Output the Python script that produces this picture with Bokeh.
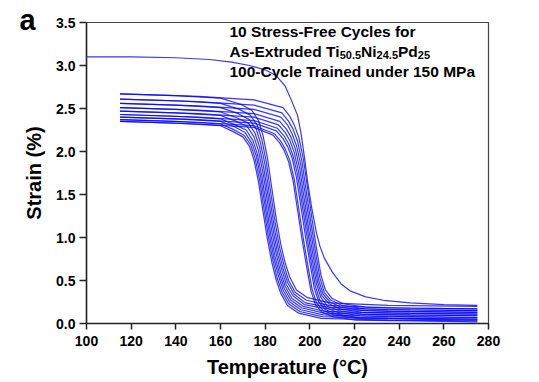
from bokeh.plotting import figure
from bokeh.models import Label, Range1d, FixedTicker
from bokeh.embed import file_html
from bokeh.resources import INLINE

# ---- data: strain (%) vs temperature (degC) ----
x_ticks = [100, 120, 140, 160, 180, 200, 220, 240, 260, 280]
y_ticks = [0.0, 0.5, 1.0, 1.5, 2.0, 2.5, 3.0, 3.5]
y_tick_labels = ["0.0", "0.5", "1.0", "1.5", "2.0", "2.5", "3.0", "3.5"]

# first heating, starting from the trained state
first_heat_T = [100, 120, 140, 155, 165, 173, 180, 185, 189, 192, 194.5, 196, 197.5,
                199, 201, 203, 204.5, 206.5, 210, 214, 218, 225, 233, 245, 260, 275]
first_heat_S = [3.10, 3.10, 3.09, 3.07, 3.04, 3.00, 2.95, 2.88, 2.76, 2.58, 2.42, 2.22, 1.95,
                1.65, 1.32, 1.05, 0.90, 0.76, 0.60, 0.46, 0.38, 0.31, 0.27, 0.24, 0.22, 0.21]

# heating branches (martensite -> austenite)
heat_T = [
    [115, 150, 175, 188, 191, 193, 195, 197, 199, 201, 203, 205, 207, 210, 215, 225, 245, 275],
    [115, 150, 175, 187.5, 190.5, 192.5, 194.5, 196.5, 198.5, 200.5, 202.5, 204.5, 206.5, 209.5, 214.5, 224.5, 245, 275],
    [115, 150, 175, 187, 190, 192, 194, 196, 198, 200, 202, 204, 206, 209, 214, 224, 245, 275],
    [115, 150, 175, 186.5, 189.5, 191.5, 193.5, 195.5, 197.5, 199.5, 201.5, 203.5, 205.5, 208.5, 213.5, 223.5, 245, 275],
    [115, 150, 175, 186, 189, 191, 193, 195, 197, 199, 201, 203, 205, 208, 213, 223, 245, 275],
    [115, 150, 175, 185.5, 188.5, 190.5, 192.5, 194.5, 196.5, 198.5, 200.5, 202.5, 204.5, 207.5, 212.5, 222.5, 245, 275],
    [115, 150, 175, 185, 188, 190, 192, 194, 196, 198, 200, 202, 204, 207, 212, 222, 245, 275],
    [115, 150, 175, 184, 187, 189, 191, 193, 195, 197, 199, 201, 203, 206, 211, 221, 245, 275],
    [115, 150, 175, 183.5, 186.5, 188.5, 190.5, 192.5, 194.5, 196.5, 198.5, 200.5, 202.5, 205.5, 210.5, 220.5, 245, 275],
]
heat_S = [
    [2.67, 2.64, 2.60, 2.51, 2.41, 2.31, 2.17, 1.93, 1.57, 1.21, 0.87, 0.56, 0.39, 0.29, 0.23, 0.19, 0.18, 0.17],
    [2.61, 2.58, 2.54, 2.45, 2.35, 2.26, 2.12, 1.88, 1.52, 1.17, 0.84, 0.53, 0.36, 0.27, 0.21, 0.17, 0.16, 0.15],
    [2.56, 2.53, 2.49, 2.40, 2.31, 2.21, 2.07, 1.84, 1.49, 1.14, 0.81, 0.50, 0.34, 0.25, 0.19, 0.15, 0.14, 0.13],
    [2.51, 2.48, 2.44, 2.35, 2.26, 2.17, 2.03, 1.80, 1.45, 1.10, 0.78, 0.48, 0.32, 0.23, 0.17, 0.13, 0.12, 0.11],
    [2.47, 2.44, 2.40, 2.31, 2.22, 2.13, 1.99, 1.76, 1.42, 1.08, 0.75, 0.46, 0.30, 0.20, 0.15, 0.11, 0.10, 0.09],
    [2.43, 2.40, 2.36, 2.27, 2.18, 2.09, 1.95, 1.73, 1.39, 1.05, 0.73, 0.43, 0.27, 0.18, 0.13, 0.09, 0.08, 0.07],
    [2.40, 2.37, 2.33, 2.24, 2.15, 2.06, 1.93, 1.70, 1.36, 1.02, 0.71, 0.41, 0.25, 0.16, 0.11, 0.07, 0.06, 0.05],
    [2.37, 2.34, 2.30, 2.21, 2.12, 2.03, 1.90, 1.68, 1.34, 1.00, 0.69, 0.40, 0.24, 0.15, 0.10, 0.06, 0.05, 0.04],
    [2.35, 2.32, 2.28, 2.19, 2.10, 2.01, 1.88, 1.66, 1.32, 0.98, 0.67, 0.38, 0.22, 0.13, 0.08, 0.04, 0.03, 0.02],
]

# cooling branches (austenite -> martensite)
cool_T = [
    [275, 235, 209, 199, 194, 191, 189, 187, 185, 183, 181, 179, 177, 174, 169, 160, 140, 115],
    [275, 235, 208.5, 198.5, 193.5, 190.5, 188.5, 186.5, 184.5, 182.5, 180.5, 178.5, 176.5, 173.5, 168.5, 160, 140, 115],
    [275, 235, 208, 198, 193, 190, 188, 186, 184, 182, 180, 178, 176, 173, 168, 160, 140, 115],
    [275, 235, 207.5, 197.5, 192.5, 189.5, 187.5, 185.5, 183.5, 181.5, 179.5, 177.5, 175.5, 172.5, 167.5, 160, 140, 115],
    [275, 235, 207, 197, 192, 189, 187, 185, 183, 181, 179, 177, 175, 172, 167, 160, 140, 115],
    [275, 235, 206.5, 196.5, 191.5, 188.5, 186.5, 184.5, 182.5, 180.5, 178.5, 176.5, 174.5, 171.5, 166.5, 160, 140, 115],
    [275, 235, 206, 196, 191, 188, 186, 184, 182, 180, 178, 176, 174, 171, 166, 160, 140, 115],
    [275, 235, 205.5, 195.5, 190.5, 187.5, 185.5, 183.5, 181.5, 179.5, 177.5, 175.5, 173.5, 170.5, 165.5, 160, 140, 115],
    [275, 235, 205, 195, 190, 187, 185, 183, 181, 179, 177, 175, 173, 170, 165, 160, 140, 115],
]
cool_S = [
    [0.20, 0.21, 0.24, 0.30, 0.39, 0.54, 0.70, 0.92, 1.21, 1.57, 1.93, 2.19, 2.36, 2.48, 2.55, 2.62, 2.65, 2.67],
    [0.17, 0.18, 0.21, 0.27, 0.36, 0.50, 0.67, 0.88, 1.17, 1.52, 1.88, 2.14, 2.30, 2.42, 2.49, 2.56, 2.59, 2.61],
    [0.15, 0.16, 0.19, 0.24, 0.34, 0.48, 0.64, 0.85, 1.13, 1.48, 1.84, 2.09, 2.26, 2.37, 2.44, 2.51, 2.54, 2.56],
    [0.13, 0.14, 0.17, 0.22, 0.32, 0.45, 0.62, 0.82, 1.10, 1.45, 1.79, 2.05, 2.21, 2.33, 2.39, 2.46, 2.49, 2.51],
    [0.11, 0.12, 0.14, 0.20, 0.29, 0.43, 0.59, 0.80, 1.07, 1.42, 1.76, 2.01, 2.17, 2.29, 2.35, 2.42, 2.45, 2.47],
    [0.09, 0.10, 0.12, 0.18, 0.27, 0.41, 0.57, 0.77, 1.04, 1.38, 1.72, 1.97, 2.13, 2.25, 2.31, 2.38, 2.41, 2.43],
    [0.07, 0.08, 0.10, 0.16, 0.25, 0.39, 0.55, 0.75, 1.02, 1.36, 1.70, 1.95, 2.10, 2.22, 2.29, 2.35, 2.38, 2.40],
    [0.05, 0.06, 0.08, 0.14, 0.23, 0.37, 0.52, 0.73, 1.00, 1.33, 1.67, 1.92, 2.08, 2.19, 2.26, 2.32, 2.35, 2.37],
    [0.03, 0.04, 0.06, 0.12, 0.21, 0.35, 0.50, 0.71, 0.98, 1.31, 1.65, 1.90, 2.06, 2.17, 2.24, 2.30, 2.33, 2.35],
]

# ---- figure ----
FONT = "Liberation Sans"
LEFT, RIGHT, TOP, BOTTOM = 86, 488, 22, 323
W, H = 539, 382
X_LO, X_HI, Y_LO, Y_HI = 100, 280, 0.0, 3.5

p = figure(width=W, height=H, output_backend="svg", toolbar_location=None,
           x_range=Range1d(X_LO, X_HI), y_range=Range1d(Y_LO, Y_HI),
           min_border_left=LEFT, min_border_right=W - RIGHT,
           min_border_top=TOP, min_border_bottom=H - BOTTOM)
p.xgrid.visible = False
p.ygrid.visible = False
p.background_fill_color = "white"
p.border_fill_color = "white"
p.outline_line_color = "#444444"
p.outline_line_width = 1.2


def dx(px):
    """canvas pixel column -> temperature"""
    return X_LO + (px - LEFT) * (X_HI - X_LO) / (RIGHT - LEFT)


def dy(py):
    """canvas pixel row -> strain"""
    return Y_LO + (BOTTOM - py) * (Y_HI - Y_LO) / (BOTTOM - TOP)


for ax in (p.xaxis[0], p.yaxis[0]):
    ax.axis_line_color = "#222222"
    ax.axis_line_width = 1.5
    ax.major_tick_line_color = "#222222"
    ax.major_tick_line_width = 1.5
    ax.major_tick_in = 0
    ax.minor_tick_line_color = None
    ax.major_label_text_font = FONT
    ax.major_label_text_font_style = "bold"
    ax.major_label_text_font_size = "14px"
    ax.major_label_text_color = "black"
    ax.axis_label_text_font = FONT
    ax.axis_label_text_font_style = "bold"
    ax.axis_label_text_font_size = "20px"
    ax.axis_label_text_color = "black"

p.xaxis.ticker = FixedTicker(ticks=x_ticks)
p.xaxis.major_tick_out = 6
p.xaxis.major_label_standoff = 6
p.xaxis.axis_label = "Temperature (°C)"
p.xaxis.axis_label_standoff = 7

p.yaxis.ticker = FixedTicker(ticks=y_ticks)
p.yaxis.major_label_overrides = {t: s for t, s in zip(y_ticks, y_tick_labels)}
p.yaxis.major_tick_out = 7
p.yaxis.major_label_standoff = 4
p.yaxis.axis_label = "Strain (%)"
p.yaxis.axis_label_standoff = 8

LINE = dict(line_color="#0505f5", line_width=1.2, line_alpha=0.8)
for t, s in zip(cool_T, cool_S):
    p.line(t, s, **LINE)
for t, s in zip(heat_T, heat_S):
    p.line(t, s, **LINE)
p.line(first_heat_T, first_heat_S, **LINE)


def add_text(px, py, txt, size):
    p.add_layout(Label(x=dx(px), y=dy(py), text=txt, text_font=FONT,
                       text_font_style="bold", text_font_size=f"{size}px",
                       text_color="black", text_baseline="alphabetic",
                       text_align="left"))


# panel letter: lives in the left side panel, positioned in canvas pixels
p.add_layout(Label(x=19, y=19, x_units="canvas", y_units="canvas", text="a",
                   text_font=FONT, text_font_style="bold", text_font_size="29px",
                   text_color="black", text_baseline="alphabetic",
                   text_align="left"), "left")

# annotation block
add_text(229, 31, "10 Stress-Free Cycles for", 15.5)
parts = [("As-Extruded Ti", 15.5, 0), ("50.5", 11, 3), ("Ni", 15.5, 0),
         ("24.5", 11, 3), ("Pd", 15.5, 0), ("25", 11, 3)]
widths = [110.2, 21.4, 15.5, 21.4, 19.8, 12.2]
cx = 229
for (txt, size, drop), w in zip(parts, widths):
    add_text(cx, 51 + drop, txt, size)
    cx += w
add_text(229, 71, "100-Cycle Trained under 150 MPa", 15.5)

open("out.html", "w").write(file_html(p, INLINE))
